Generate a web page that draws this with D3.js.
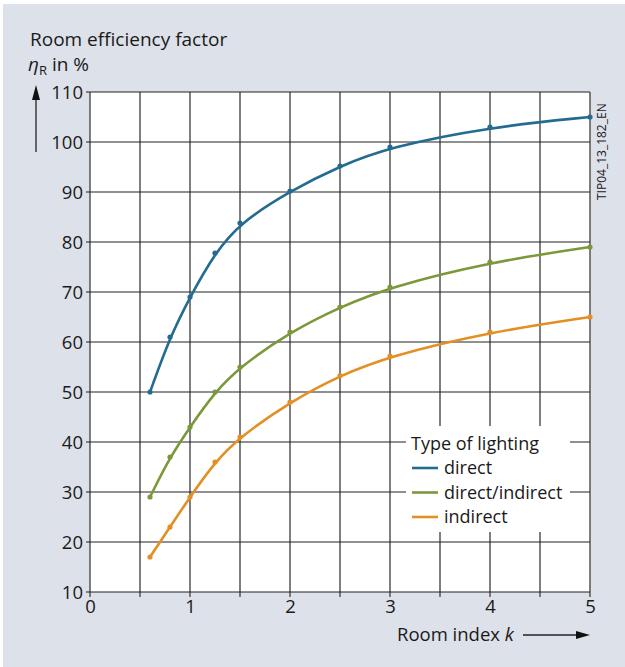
<!DOCTYPE html>
<html><head><meta charset="utf-8">
<script src="https://cdn.jsdelivr.net/npm/d3@7"></script>
<style>body{margin:0;background:#fff;} text{font-family:"Open Sans","Noto Sans",sans-serif;fill:#1a1a1a;}</style>
</head><body><svg id="c" width="625" height="667"></svg>
<script>
const kValues = [0.6, 0.8, 1, 1.25, 1.5, 2, 2.5, 3, 4, 5];
const direct = [50, 61, 69, 77.8, 83.8, 90.2, 95.2, 99, 103, 105];
const directIndirect = [29, 37, 43, 50, 55, 62, 67, 71, 76, 79];
const indirect = [17, 23, 29, 36, 41, 48, 53.3, 57.2, 62, 65];
const seriesNames = ["direct", "direct/indirect", "indirect"];
const seriesColors = ["#236b91", "#7b983a", "#e38f24"];
const xTicks = [0, 1, 2, 3, 4, 5];
const yTicks = [10, 20, 30, 40, 50, 60, 70, 80, 90, 100, 110];

const svg = d3.select("#c");
svg.append("rect").attr("x", 3).attr("y", 4).attr("width", 622).attr("height", 663).attr("fill", "#dde1e9");

const x = d3.scaleLinear().domain([0, 5]).range([90, 590]);
const y = d3.scaleLinear().domain([10, 110]).range([592, 92]);

svg.append("rect").attr("x", x(0)).attr("y", y(110)).attr("width", x(5) - x(0)).attr("height", y(10) - y(110)).attr("fill", "#fff");

const gridColor = "#555";
const vLines = d3.range(0, 5.01, 0.5);
svg.append("g").selectAll("line").data(vLines).join("line")
  .attr("x1", d => x(d)).attr("x2", d => x(d)).attr("y1", y(110)).attr("y2", y(10) + 5)
  .attr("stroke", gridColor).attr("stroke-width", 1.5);
svg.append("g").selectAll("line").data(yTicks).join("line")
  .attr("x1", x(0) - 4).attr("x2", x(5)).attr("y1", d => y(d)).attr("y2", d => y(d))
  .attr("stroke", "#222").attr("stroke-width", 1.2);

const xAxis = svg.append("g").attr("transform", `translate(0,${y(10)})`)
  .call(d3.axisBottom(x).tickValues(xTicks).tickSize(0).tickPadding(7).tickFormat(d3.format("d")));
xAxis.select(".domain").remove();
xAxis.selectAll("text").attr("font-size", 18.5).attr("fill", "#1a1a1a").attr("dy", "0.75em").style("font-family", "'Open Sans',sans-serif");
const yAxis = svg.append("g").attr("transform", `translate(${x(0)},0)`)
  .call(d3.axisLeft(y).tickValues(yTicks).tickSize(0).tickPadding(7).tickFormat(d3.format("d")));
yAxis.select(".domain").remove();
yAxis.selectAll("text").attr("font-size", 18.5).attr("fill", "#1a1a1a").attr("dy", "0.35em").style("font-family", "'Open Sans',sans-serif");

svg.append("rect").attr("x", 406).attr("y", 426).attr("width", 164).attr("height", 106).attr("fill", "#fff");

const series = [direct, directIndirect, indirect];
const line = d3.line().x((d, i) => x(kValues[i])).y(d => y(d)).curve(d3.curveBasis);
series.forEach((s, si) => {
  svg.append("path").datum(s).attr("d", line).attr("fill", "none")
    .attr("stroke", seriesColors[si]).attr("stroke-width", 2.6);
  svg.append("g").selectAll("circle").data(s).join("circle")
    .attr("cx", (d, i) => x(kValues[i])).attr("cy", d => y(d)).attr("r", 2.6)
    .attr("fill", seriesColors[si]);
});

svg.append("text").attr("x", 411).attr("y", 450).attr("font-size", 18).text("Type of lighting");
seriesNames.forEach((n, i) => {
  const yy = 468 + i * 24.5;
  svg.append("line").attr("x1", 412).attr("x2", 438).attr("y1", yy).attr("y2", yy)
    .attr("stroke", seriesColors[i]).attr("stroke-width", 2.6);
  svg.append("text").attr("x", 444).attr("y", yy + 6).attr("font-size", 18).text(n);
});

svg.append("text").attr("x", 30).attr("y", 46).attr("font-size", 19).text("Room efficiency factor");
const t2 = svg.append("text").attr("x", 28).attr("y", 71).attr("font-size", 19);
t2.append("tspan").attr("font-style", "italic").text("η");
t2.append("tspan").attr("font-size", 13).attr("dy", 4).text("R");
t2.append("tspan").attr("dy", -4).text(" in %");

svg.append("line").attr("x1", 36).attr("x2", 36).attr("y1", 152).attr("y2", 96).attr("stroke", "#222").attr("stroke-width", 1.3);
svg.append("path").attr("d", "M36,85 L32,100 L40,100 Z").attr("fill", "#111");

const xl = svg.append("text").attr("x", 397).attr("y", 641).attr("font-size", 18.5);
xl.append("tspan").text("Room index ");
xl.append("tspan").attr("font-style", "italic").text("k");
svg.append("line").attr("x1", 523).attr("x2", 578).attr("y1", 635).attr("y2", 635).attr("stroke", "#222").attr("stroke-width", 1.3);
svg.append("path").attr("d", "M590,635 L576,631 L576,639 Z").attr("fill", "#111");

svg.append("text").attr("transform", "translate(606,200) rotate(-90)").attr("font-size", 12).text("TIP04_13_182_EN");
</script>
</body></html>
